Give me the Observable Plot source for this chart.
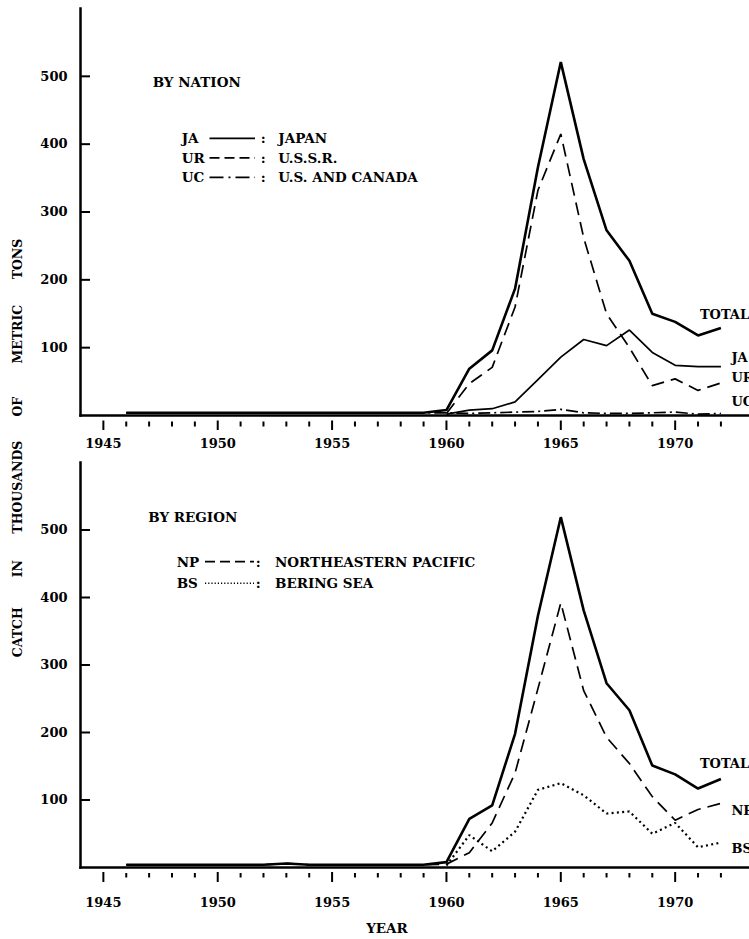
<!DOCTYPE html>
<html>
<head>
<meta charset="utf-8">
<script src="https://cdn.jsdelivr.net/npm/d3@7"></script>
<script src="https://cdn.jsdelivr.net/npm/@observablehq/plot@0.6"></script>
<style>
  html, body { margin: 0; padding: 0; background: #fff; }
  #chart { position: relative; width: 749px; height: 939px; overflow: hidden; background: #fff; color: #000;
           font-family: "DejaVu Serif", "Liberation Serif", serif; font-weight: bold; }
  #chart > svg { position: absolute; left: 0; }
</style>
</head>
<body>
<div id="chart"></div>
<script>
// ---------------- data ----------------
const years = [1946,1947,1948,1949,1950,1951,1952,1953,1954,1955,1956,1957,1958,1959,
               1960,1961,1962,1963,1964,1965,1966,1967,1968,1969,1970,1971,1972];

// By nation (thousands of metric tons)
const totalByNation = [4,4,4,4,4,4,4,4,4,4,4,4,4,4, 8,69,96,187,366,521,378,273,228,150,138,118,129];
const japan        = [null,null,null,null,null,null,null,null,null,null,null,null,null,null,
                      2,8,10,20,53,86,112,103,126,93,74,72,72];
const ussr         = [null,null,null,null,null,null,null,null,null,null,null,null,null,null,
                      3,47,71,160,332,415,262,150,100,44,54,37,48];
const usCanada     = [4,4,4,4,4,4,4,4,4,4,4,4,4,4, 4,3,4,5,6,9,4,3,3,4,5,2,3];

// By region
const totalByRegion    = [4,4,4,4,4,4,4,6,4,4,4,4,4,4, 8,72,92,198,373,519,381,273,233,151,138,117,131];
const northeastPacific = [4,4,4,4,4,4,4,6,4,4,4,4,4,4, 5,22,66,140,265,392,262,193,154,105,70,86,95];
const beringSea        = [null,null,null,null,null,null,null,null,null,null,null,null,null,null,
                          3,48,24,53,115,125,107,80,83,50,66,30,37];

// labels
const nationCodes = ["JA", "UR", "UC"];
const nationNames = ["JAPAN", "U.S.S.R.", "U.S. AND CANADA"];
const regionCodes = ["NP", "BS"];
const regionNames = ["NORTHEASTERN PACIFIC", "BERING SEA"];
const panelTitles = ["BY NATION", "BY REGION"];
const totalLabel = "TOTAL";
const yTicks = [100, 200, 300, 400, 500];
const majorYears = [1945, 1950, 1955, 1960, 1965, 1970];
const minorYears = [1946,1947,1948,1949,1951,1952,1953,1954,1956,1957,1958,1959,
                    1961,1962,1963,1964,1966,1967,1968,1969,1971,1972];
const yTitleWords = ["CATCH", "IN", "THOUSANDS", "OF", "METRIC", "TONS"];
const xTitle = "YEAR";

// ---------------- styles ----------------
const lineStyle = {
  TOTAL: {strokeWidth: 2.6, strokeDasharray: null},
  JA:    {strokeWidth: 1.7, strokeDasharray: null},
  UR:    {strokeWidth: 1.7, strokeDasharray: "13,7"},
  UC:    {strokeWidth: 1.7, strokeDasharray: "12,4,2,4"},
  NP:    {strokeWidth: 1.7, strokeDasharray: "13,7"},
  BS:    {strokeWidth: 2.2, strokeDasharray: "2,3.3"}
};
const legendDash = {JA: null, UR: "10,5", UC: "14,5,2,5", NP: "10,5", BS: "1.2,2"};
const FONT = '"DejaVu Serif", "Liberation Serif", serif';

function rowsOf(values) {
  return years.map((year, i) => ({year, value: values[i]})).filter(d => d.value != null);
}

function lineMark(key, values) {
  const s = lineStyle[key];
  return Plot.line(rowsOf(values), {
    x: "year", y: "value", stroke: "#000",
    strokeWidth: s.strokeWidth, strokeDasharray: s.strokeDasharray,
    strokeLinejoin: "miter", strokeLinecap: "butt"
  });
}

function endLabel(key, values, dx, dy) {
  const rows = rowsOf(values);
  const last = rows[rows.length - 1];
  return Plot.text([last], {
    x: "year", y: "value", text: () => key,
    dx, dy, textAnchor: "start", fontSize: 13, fontWeight: "bold", fill: "#000"
  });
}

function legendMark(title, titlePos, codes, names, keys, rowPos) {
  return () => {
    const g = d3.create("svg:g")
      .attr("text-anchor", "start")
      .attr("font-family", FONT).attr("font-weight", "bold").attr("font-size", 13.5).attr("fill", "#000");
    g.append("text").attr("x", titlePos.x).attr("y", titlePos.y + 5).text(title);
    codes.forEach((code, i) => {
      const y = rowPos.y0 + i * rowPos.dy;
      g.append("text").attr("x", rowPos.codeX).attr("y", y + 5).text(code);
      g.append("line")
        .attr("x1", rowPos.lineX1).attr("x2", rowPos.lineX2)
        .attr("y1", y).attr("y2", y)
        .attr("stroke", "#000").attr("stroke-width", keys[i] === "BS" ? 1.4 : 1.7)
        .attr("stroke-dasharray", legendDash[keys[i]]);
      g.append("text").attr("x", rowPos.colonX).attr("y", y + 5).attr("text-anchor", "middle").text(":");
      g.append("text").attr("x", rowPos.nameX).attr("y", y + 5).text(names[i]);
    });
    return g.node();
  };
}

function axes(tickPad, majorDy, majorSize, minorDy, minorSize) {
  return [
    Plot.frame({anchor: "left", strokeWidth: 2.5, stroke: "#000"}),
    Plot.frame({anchor: "bottom", strokeWidth: 2.5, stroke: "#000"}),
    Plot.axisY(yTicks, {tickSize: 10, dx: 10, tickFormat: () => "", strokeWidth: 2, label: null}),
    Plot.axisY(yTicks, {tickSize: 0, tickPadding: 13, label: null, fontSize: 13, tickFormat: d => String(d)}),
    Plot.axisX(majorYears, {tickSize: majorSize, dy: majorDy, tickFormat: () => "", strokeWidth: 2, label: null}),
    Plot.axisX(minorYears, {tickSize: minorSize, dy: minorDy, tickFormat: () => "", strokeWidth: 2, label: null}),
    Plot.axisX(majorYears, {tickSize: 0, tickPadding: tickPad, label: null, fontSize: 13, tickFormat: d => String(d)})
  ];
}

const common = {
  width: 749, marginLeft: 80, marginRight: 0,
  x: {domain: [1944, 1973.25]},
  y: {domain: [0, 600]},
  style: {background: "transparent", fontFamily: FONT, fontWeight: "bold", fontSize: "13px", color: "#000", overflow: "hidden"}
};

// ---------------- top panel: by nation ----------------
const nationPlot = Plot.plot({
  ...common,
  height: 455, marginTop: 8, marginBottom: 40,
  marks: [
    ...axes(23, 5.5, 9.5, 6.5, 5),
    lineMark("UC", usCanada),
    lineMark("JA", japan),
    lineMark("UR", ussr),
    lineMark("TOTAL", totalByNation),
    endLabel(totalLabel, totalByNation, -21, -13),
    endLabel("JA", japan, 10.5, -9.3),
    endLabel("UR", ussr, 10.5, -5),
    endLabel("UC", usCanada, 10.5, -12),
    legendMark(panelTitles[0], {x: 152.7, y: 81.7}, nationCodes, nationNames, ["JA", "UR", "UC"],
               {y0: 138.3, dy: 19.5, codeX: 181.7, lineX1: 209.5, lineX2: 255, colonX: 263.3, nameX: 278.3})
  ]
});
nationPlot.style.top = "0px";

// ---------------- bottom panel: by region ----------------
const regionPlot = Plot.plot({
  ...common,
  height: 484, marginTop: 7, marginBottom: 72,
  marks: [
    ...axes(30, 5, 10, 6, 4.5),
    lineMark("BS", beringSea),
    lineMark("NP", northeastPacific),
    lineMark("TOTAL", totalByRegion),
    endLabel(totalLabel, totalByRegion, -21, -15.6),
    endLabel("NP", northeastPacific, 10.5, 7),
    endLabel("BS", beringSea, 10.5, 6),
    Plot.text([xTitle], {frameAnchor: "bottom", text: d => d, dx: -28, dy: 65, fontSize: 13.5, fontWeight: "bold"}),
    legendMark(panelTitles[1], {x: 148.3, y: 62.3}, regionCodes, regionNames, ["NP", "BS"],
               {y0: 106.7, dy: 21.6, codeX: 176.7, lineX1: 205, lineX2: 254, colonX: 258.3, nameX: 275})
  ]
});
regionPlot.style.top = "455px";

const chartEl = document.getElementById("chart");
chartEl.appendChild(nationPlot);
chartEl.appendChild(regionPlot);

const yTitleCentres = [630, 566.5, 485, 404.5, 332, 259];
const ttl = d3.create("svg").attr("width", 40).attr("height", 939)
  .style("position", "absolute").style("left", "0px").style("top", "0px");
const ttlText = ttl.append("text")
  .attr("transform", "translate(22,0) rotate(-90)")
  .attr("text-anchor", "middle")
  .attr("font-family", FONT).attr("font-weight", "bold").attr("font-size", 12.5)
  .attr("fill", "#000");
yTitleWords.forEach((w, i) => {
  ttlText.append("tspan").attr("x", -yTitleCentres[i]).attr("y", 0).text(w + (i < yTitleWords.length - 1 ? " " : ""));
});
chartEl.appendChild(ttl.node());
</script>
</body>
</html>
